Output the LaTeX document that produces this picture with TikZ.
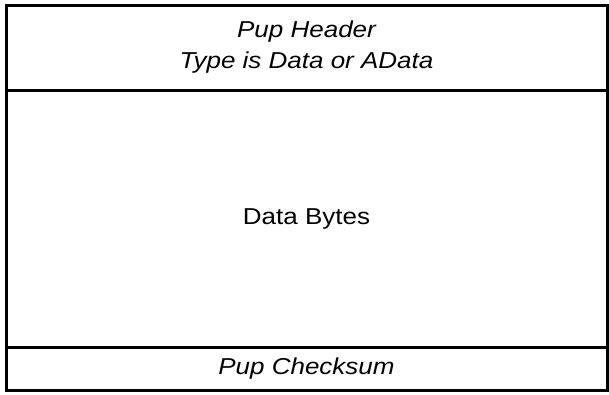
\documentclass[tikz,border=0pt]{standalone}
\usepackage{fontspec}
\newfontfamily\pupfont[FakeStretch=1.13]{Liberation Sans}
\usetikzlibrary{positioning}
\begin{document}
\begin{tikzpicture}[x=1pt, y=1pt, line join=miter,
		field/.style={draw, line width=3pt, inner sep=0pt, outer sep=0pt,
			minimum width=601pt, align=center,
			font=\pupfont\fontsize{23}{31}\selectfont}]
			\useasboundingbox (0,0) rectangle (609,-394);
			\node[field, minimum height=85pt] (header) at (306.5,-47.5)
			{\itshape Pup Header\\\itshape Type is Data or AData};
			\node[field, minimum height=257pt, below=0pt of header] (bytes) {Data Bytes};
			\node[field, minimum height=43pt, below=0pt of bytes] (checksum) {\itshape Pup Checksum};
		\end{tikzpicture}
\end{document}
